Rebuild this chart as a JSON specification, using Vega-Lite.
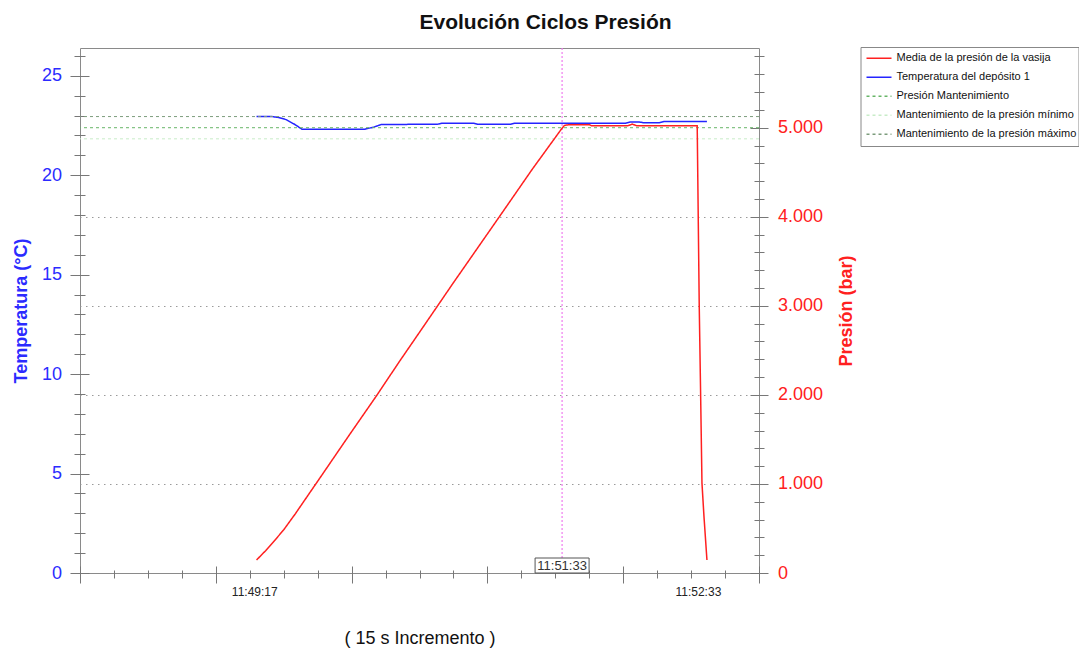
{
  "$schema": "https://vega.github.io/schema/vega-lite/v6.json",
  "width": 679,
  "height": 525,
  "autosize": {"type": "none"},
  "padding": {"left": 80, "top": 48, "right": 320, "bottom": 77},
  "background": "white",
  "config": {
    "font": "Liberation Sans",
    "view": {"stroke": "#8a8a8a", "strokeWidth": 1},
    "axis": {"grid": false, "domain": false, "tickColor": "#777777", "tickWidth": 1, "labelFont": "Liberation Sans", "titleFont": "Liberation Sans"}
  },
  "title": {"text": "Evolución Ciclos Presión", "fontSize": 21, "fontWeight": "bold", "font": "Liberation Sans", "color": "#111111", "anchor": "middle", "dx": 126, "offset": 14},
  "datasets": {
    "temp": [
      {"t": "2024-01-01T11:49:18", "temp": 22.95, "serie": "Temperatura del depósito 1"},
      {"t": "2024-01-01T11:49:25", "temp": 22.95, "serie": "Temperatura del depósito 1"},
      {"t": "2024-01-01T11:49:28", "temp": 22.9, "serie": "Temperatura del depósito 1"},
      {"t": "2024-01-01T11:49:31", "temp": 22.8, "serie": "Temperatura del depósito 1"},
      {"t": "2024-01-01T11:49:35", "temp": 22.55, "serie": "Temperatura del depósito 1"},
      {"t": "2024-01-01T11:49:38", "temp": 22.32, "serie": "Temperatura del depósito 1"},
      {"t": "2024-01-01T11:50:06", "temp": 22.32, "serie": "Temperatura del depósito 1"},
      {"t": "2024-01-01T11:50:10", "temp": 22.43, "serie": "Temperatura del depósito 1"},
      {"t": "2024-01-01T11:50:13", "temp": 22.55, "serie": "Temperatura del depósito 1"},
      {"t": "2024-01-01T11:50:38", "temp": 22.57, "serie": "Temperatura del depósito 1"},
      {"t": "2024-01-01T11:50:40", "temp": 22.62, "serie": "Temperatura del depósito 1"},
      {"t": "2024-01-01T11:50:54", "temp": 22.62, "serie": "Temperatura del depósito 1"},
      {"t": "2024-01-01T11:50:56", "temp": 22.56, "serie": "Temperatura del depósito 1"},
      {"t": "2024-01-01T11:51:10", "temp": 22.56, "serie": "Temperatura del depósito 1"},
      {"t": "2024-01-01T11:51:12", "temp": 22.62, "serie": "Temperatura del depósito 1"},
      {"t": "2024-01-01T11:52:01", "temp": 22.62, "serie": "Temperatura del depósito 1"},
      {"t": "2024-01-01T11:52:03", "temp": 22.68, "serie": "Temperatura del depósito 1"},
      {"t": "2024-01-01T11:52:07", "temp": 22.68, "serie": "Temperatura del depósito 1"},
      {"t": "2024-01-01T11:52:09", "temp": 22.64, "serie": "Temperatura del depósito 1"},
      {"t": "2024-01-01T11:52:16", "temp": 22.64, "serie": "Temperatura del depósito 1"},
      {"t": "2024-01-01T11:52:18", "temp": 22.7, "serie": "Temperatura del depósito 1"},
      {"t": "2024-01-01T11:52:37", "temp": 22.7, "serie": "Temperatura del depósito 1"}
    ],
    "pres": [
      {"t": "2024-01-01T11:49:18", "p": 146, "serie": "Media de la presión de la vasija"},
      {"t": "2024-01-01T11:49:22", "p": 250, "serie": "Media de la presión de la vasija"},
      {"t": "2024-01-01T11:49:26", "p": 365, "serie": "Media de la presión de la vasija"},
      {"t": "2024-01-01T11:49:30", "p": 485, "serie": "Media de la presión de la vasija"},
      {"t": "2024-01-01T11:49:35", "p": 660, "serie": "Media de la presión de la vasija"},
      {"t": "2024-01-01T11:49:40", "p": 845, "serie": "Media de la presión de la vasija"},
      {"t": "2024-01-01T11:49:45", "p": 1030, "serie": "Media de la presión de la vasija"},
      {"t": "2024-01-01T11:49:52", "p": 1290, "serie": "Media de la presión de la vasija"},
      {"t": "2024-01-01T11:49:59", "p": 1550, "serie": "Media de la presión de la vasija"},
      {"t": "2024-01-01T11:50:11", "p": 1990, "serie": "Media de la presión de la vasija"},
      {"t": "2024-01-01T11:50:21", "p": 2370, "serie": "Media de la presión de la vasija"},
      {"t": "2024-01-01T11:50:31", "p": 2740, "serie": "Media de la presión de la vasija"},
      {"t": "2024-01-01T11:50:45", "p": 3260, "serie": "Media de la presión de la vasija"},
      {"t": "2024-01-01T11:51:05", "p": 3990, "serie": "Media de la presión de la vasija"},
      {"t": "2024-01-01T11:51:20", "p": 4540, "serie": "Media de la presión de la vasija"},
      {"t": "2024-01-01T11:51:33", "p": 4995, "serie": "Media de la presión de la vasija"},
      {"t": "2024-01-01T11:51:34", "p": 5025, "serie": "Media de la presión de la vasija"},
      {"t": "2024-01-01T11:51:36", "p": 5034, "serie": "Media de la presión de la vasija"},
      {"t": "2024-01-01T11:51:45", "p": 5034, "serie": "Media de la presión de la vasija"},
      {"t": "2024-01-01T11:51:46", "p": 5022, "serie": "Media de la presión de la vasija"},
      {"t": "2024-01-01T11:52:02", "p": 5022, "serie": "Media de la presión de la vasija"},
      {"t": "2024-01-01T11:52:04", "p": 5040, "serie": "Media de la presión de la vasija"},
      {"t": "2024-01-01T11:52:06", "p": 5022, "serie": "Media de la presión de la vasija"},
      {"t": "2024-01-01T11:52:32.7", "p": 5022, "serie": "Media de la presión de la vasija"},
      {"t": "2024-01-01T11:52:33.6", "p": 2990, "serie": "Media de la presión de la vasija"},
      {"t": "2024-01-01T11:52:34.2", "p": 2020, "serie": "Media de la presión de la vasija"},
      {"t": "2024-01-01T11:52:34.8", "p": 1010, "serie": "Media de la presión de la vasija"},
      {"t": "2024-01-01T11:52:35.7", "p": 630, "serie": "Media de la presión de la vasija"},
      {"t": "2024-01-01T11:52:37", "p": 146, "serie": "Media de la presión de la vasija"}
    ],
    "limits": [
      {"serie": "Presión Mantenimiento", "p": 5000},
      {"serie": "Mantenimiento de la presión mínimo", "p": 4875},
      {"serie": "Mantenimiento de la presión máximo", "p": 5125}
    ],
    "cursor": [
      {"t": "2024-01-01T11:51:33", "p0": 0, "label": "11:51:33"}
    ]
  },
  "layer": [
    {
      "data": {"name": "temp"},
      "layer": [
        {
          "mark": {"type": "line", "opacity": 0},
          "encoding": {
            "x": {"field": "t", "type": "temporal", "scale": {"nice": false, "domain": [{"year": 2024, "month": 1, "date": 1, "hours": 11, "minutes": 48, "seconds": 0}, {"year": 2024, "month": 1, "date": 1, "hours": 11, "minutes": 53, "seconds": 0}]},
              "axis": {"orient": "bottom", "labels": false, "tickSize": 8, "offset": -3, "title": null,
                "values": [
                  {"year": 2024, "month": 1, "date": 1, "hours": 11, "minutes": 48, "seconds": 0},
                  {"year": 2024, "month": 1, "date": 1, "hours": 11, "minutes": 48, "seconds": 15},
                  {"year": 2024, "month": 1, "date": 1, "hours": 11, "minutes": 48, "seconds": 30},
                  {"year": 2024, "month": 1, "date": 1, "hours": 11, "minutes": 48, "seconds": 45},
                  {"year": 2024, "month": 1, "date": 1, "hours": 11, "minutes": 49, "seconds": 0},
                  {"year": 2024, "month": 1, "date": 1, "hours": 11, "minutes": 49, "seconds": 15},
                  {"year": 2024, "month": 1, "date": 1, "hours": 11, "minutes": 49, "seconds": 30},
                  {"year": 2024, "month": 1, "date": 1, "hours": 11, "minutes": 49, "seconds": 45},
                  {"year": 2024, "month": 1, "date": 1, "hours": 11, "minutes": 50, "seconds": 0},
                  {"year": 2024, "month": 1, "date": 1, "hours": 11, "minutes": 50, "seconds": 15},
                  {"year": 2024, "month": 1, "date": 1, "hours": 11, "minutes": 50, "seconds": 30},
                  {"year": 2024, "month": 1, "date": 1, "hours": 11, "minutes": 50, "seconds": 45},
                  {"year": 2024, "month": 1, "date": 1, "hours": 11, "minutes": 51, "seconds": 0},
                  {"year": 2024, "month": 1, "date": 1, "hours": 11, "minutes": 51, "seconds": 15},
                  {"year": 2024, "month": 1, "date": 1, "hours": 11, "minutes": 51, "seconds": 30},
                  {"year": 2024, "month": 1, "date": 1, "hours": 11, "minutes": 51, "seconds": 45},
                  {"year": 2024, "month": 1, "date": 1, "hours": 11, "minutes": 52, "seconds": 0},
                  {"year": 2024, "month": 1, "date": 1, "hours": 11, "minutes": 52, "seconds": 15},
                  {"year": 2024, "month": 1, "date": 1, "hours": 11, "minutes": 52, "seconds": 30},
                  {"year": 2024, "month": 1, "date": 1, "hours": 11, "minutes": 52, "seconds": 45},
                  {"year": 2024, "month": 1, "date": 1, "hours": 11, "minutes": 53, "seconds": 0}
                ]}},
            "y": {"field": "temp", "type": "quantitative", "scale": {"domain": [0, 26.4], "nice": false, "zero": false},
              "axis": {"orient": "left", "values": [0,1,2,3,4,5,6,7,8,9,10,11,12,13,14,15,16,17,18,19,20,21,22,23,24,25,26], "labels": false, "tickSize": 11, "offset": -5, "title": null}}
          }
        },
        {
          "mark": {"type": "line", "opacity": 0},
          "encoding": {
            "x": {"field": "t", "type": "temporal", "scale": {"nice": false, "domain": [{"year": 2024, "month": 1, "date": 1, "hours": 11, "minutes": 48, "seconds": 0}, {"year": 2024, "month": 1, "date": 1, "hours": 11, "minutes": 53, "seconds": 0}]},
              "axis": {"orient": "bottom", "labels": false, "tickSize": 17, "offset": -7, "title": null,
                "values": [
                  {"year": 2024, "month": 1, "date": 1, "hours": 11, "minutes": 48, "seconds": 0},
                  {"year": 2024, "month": 1, "date": 1, "hours": 11, "minutes": 49, "seconds": 0},
                  {"year": 2024, "month": 1, "date": 1, "hours": 11, "minutes": 50, "seconds": 0},
                  {"year": 2024, "month": 1, "date": 1, "hours": 11, "minutes": 51, "seconds": 0},
                  {"year": 2024, "month": 1, "date": 1, "hours": 11, "minutes": 52, "seconds": 0},
                  {"year": 2024, "month": 1, "date": 1, "hours": 11, "minutes": 53, "seconds": 0}
                ]}},
            "y": {"field": "temp", "type": "quantitative", "scale": {"domain": [0, 26.4], "nice": false, "zero": false},
              "axis": {"orient": "left", "values": [0, 5, 10, 15, 20, 25], "tickSize": 19, "offset": -9, "labelPadding": 8.5, "labelFontSize": 18, "labelColor": "#2b2bff", "title": "Temperatura (°C)", "titleFontSize": 18, "titleFontWeight": "bold", "titleColor": "#2b2bff", "titlePadding": 11}}
          }
        },
        {
          "mark": {"type": "line", "strokeWidth": 1.5},
          "encoding": {
            "x": {"field": "t", "type": "temporal", "scale": {"nice": false, "domain": [{"year": 2024, "month": 1, "date": 1, "hours": 11, "minutes": 48, "seconds": 0}, {"year": 2024, "month": 1, "date": 1, "hours": 11, "minutes": 53, "seconds": 0}]},
              "axis": {"orient": "bottom", "values": [{"year": 2024, "month": 1, "date": 1, "hours": 11, "minutes": 49, "seconds": 17}, {"year": 2024, "month": 1, "date": 1, "hours": 11, "minutes": 52, "seconds": 33}], "format": "%H:%M:%S", "ticks": false, "labelPadding": 13, "labelFontSize": 12, "labelColor": "#222222", "title": "( 15 s Incremento )", "titleFontSize": 18, "titleFontWeight": "normal", "titleColor": "#111111", "titlePadding": 32}},
            "y": {"field": "temp", "type": "quantitative", "scale": {"domain": [0, 26.4], "nice": false, "zero": false}, "axis": null},
            "color": {"field": "serie", "type": "nominal",
              "scale": {"domain": ["Media de la presión de la vasija", "Temperatura del depósito 1", "Presión Mantenimiento", "Mantenimiento de la presión mínimo", "Mantenimiento de la presión máximo"], "range": ["#ff2020", "#2424ff", "#67b567", "#c8ecc8", "#7c9c7c"]},
              "legend": {"orient": "none", "legendX": 780.5, "legendY": -1, "title": null, "symbolType": "stroke", "symbolSize": 625, "symbolStrokeWidth": 1.5, "symbolOffset": 3, "clipHeight": 18.5, "labelFontSize": 11, "labelFont": "Liberation Sans", "labelColor": "#111111", "padding": 2, "rowPadding": 0, "labelOffset": 4, "strokeColor": "#888888", "fillColor": "white", "labelLimit": 300}},
            "strokeDash": {"field": "serie", "type": "nominal",
              "scale": {"domain": ["Media de la presión de la vasija", "Temperatura del depósito 1", "Presión Mantenimiento", "Mantenimiento de la presión mínimo", "Mantenimiento de la presión máximo"], "range": [[1, 0], [1, 0], [3, 3], [3, 3], [3, 3]]},
              "legend": {"orient": "none", "legendX": 780.5, "legendY": -1, "title": null, "symbolType": "stroke", "symbolSize": 625, "symbolStrokeWidth": 1.5, "symbolOffset": 3, "clipHeight": 18.5, "labelFontSize": 11, "labelFont": "Liberation Sans", "labelColor": "#111111", "padding": 2, "rowPadding": 0, "labelOffset": 4, "strokeColor": "#888888", "fillColor": "white", "labelLimit": 300}}
          }
        }
      ],
      "resolve": {"axis": {"x": "independent", "y": "independent"}}
    },
    {
      "layer": [
        {
          "data": {"name": "limits"},
          "mark": {"type": "rule", "opacity": 0},
          "encoding": {
            "y": {"field": "p", "type": "quantitative", "scale": {"domain": [0, 5895], "nice": false, "zero": false},
              "axis": {"orient": "right", "values": [1000, 2000, 3000, 4000], "labels": false, "ticks": false, "grid": true, "gridColor": "#9a9a9a", "gridDash": [1.5, 4.5], "gridWidth": 1, "title": null}}
          }
        },
        {
          "data": {"name": "limits"},
          "mark": {"type": "rule", "opacity": 0},
          "encoding": {
            "y": {"field": "p", "type": "quantitative", "scale": {"domain": [0, 5895], "nice": false, "zero": false},
              "axis": {"orient": "right", "values": [0,200,400,600,800,1000,1200,1400,1600,1800,2000,2200,2400,2600,2800,3000,3200,3400,3600,3800,4000,4200,4400,4600,4800,5000,5200,5400,5600,5800], "labels": false, "tickSize": 10, "offset": -5, "title": null}}
          }
        },
        {
          "data": {"name": "cursor"},
          "mark": {"type": "rule", "color": "#f07cf0", "strokeDash": [2, 2], "strokeWidth": 1.2},
          "encoding": {
            "x": {"field": "t", "type": "temporal", "scale": {"nice": false, "domain": [{"year": 2024, "month": 1, "date": 1, "hours": 11, "minutes": 48, "seconds": 0}, {"year": 2024, "month": 1, "date": 1, "hours": 11, "minutes": 53, "seconds": 0}]}, "axis": null}
          }
        },
        {
          "data": {"name": "limits"},
          "mark": {"type": "rule", "strokeWidth": 1},
          "encoding": {
            "y": {"field": "p", "type": "quantitative", "scale": {"domain": [0, 5895], "nice": false, "zero": false},
              "axis": {"orient": "right", "values": [0, 1000, 2000, 3000, 4000, 5000], "tickSize": 18, "offset": -9, "labelPadding": 9.5, "labelFontSize": 18, "labelColor": "#ff2020", "labelExpr": "datum.value == 0 ? '0' : replace(format(datum.value, ','), ',', '.')", "title": "Presión (bar)", "titleColor": "#ff2020", "titleFontSize": 18, "titleFontWeight": "bold", "titleAngle": 270, "titlePadding": 33}},
            "color": {"field": "serie", "type": "nominal",
              "scale": {"domain": ["Media de la presión de la vasija", "Temperatura del depósito 1", "Presión Mantenimiento", "Mantenimiento de la presión mínimo", "Mantenimiento de la presión máximo"], "range": ["#ff2020", "#2424ff", "#67b567", "#c8ecc8", "#7c9c7c"]},
              "legend": {"orient": "none", "legendX": 780.5, "legendY": -1, "title": null, "symbolType": "stroke", "symbolSize": 625, "symbolStrokeWidth": 1.5, "symbolOffset": 3, "clipHeight": 18.5, "labelFontSize": 11, "labelFont": "Liberation Sans", "labelColor": "#111111", "padding": 2, "rowPadding": 0, "labelOffset": 4, "strokeColor": "#888888", "fillColor": "white", "labelLimit": 300}},
            "strokeDash": {"field": "serie", "type": "nominal",
              "scale": {"domain": ["Media de la presión de la vasija", "Temperatura del depósito 1", "Presión Mantenimiento", "Mantenimiento de la presión mínimo", "Mantenimiento de la presión máximo"], "range": [[1, 0], [1, 0], [3, 3], [3, 3], [3, 3]]},
              "legend": {"orient": "none", "legendX": 780.5, "legendY": -1, "title": null, "symbolType": "stroke", "symbolSize": 625, "symbolStrokeWidth": 1.5, "symbolOffset": 3, "clipHeight": 18.5, "labelFontSize": 11, "labelFont": "Liberation Sans", "labelColor": "#111111", "padding": 2, "rowPadding": 0, "labelOffset": 4, "strokeColor": "#888888", "fillColor": "white", "labelLimit": 300}}
          }
        },
        {
          "data": {"name": "pres"},
          "mark": {"type": "line", "strokeWidth": 1.5},
          "encoding": {
            "x": {"field": "t", "type": "temporal", "scale": {"nice": false, "domain": [{"year": 2024, "month": 1, "date": 1, "hours": 11, "minutes": 48, "seconds": 0}, {"year": 2024, "month": 1, "date": 1, "hours": 11, "minutes": 53, "seconds": 0}]}, "axis": null},
            "y": {"field": "p", "type": "quantitative", "scale": {"domain": [0, 5895], "nice": false, "zero": false}, "axis": null},
            "color": {"field": "serie", "type": "nominal",
              "scale": {"domain": ["Media de la presión de la vasija", "Temperatura del depósito 1", "Presión Mantenimiento", "Mantenimiento de la presión mínimo", "Mantenimiento de la presión máximo"], "range": ["#ff2020", "#2424ff", "#67b567", "#c8ecc8", "#7c9c7c"]},
              "legend": {"orient": "none", "legendX": 780.5, "legendY": -1, "title": null, "symbolType": "stroke", "symbolSize": 625, "symbolStrokeWidth": 1.5, "symbolOffset": 3, "clipHeight": 18.5, "labelFontSize": 11, "labelFont": "Liberation Sans", "labelColor": "#111111", "padding": 2, "rowPadding": 0, "labelOffset": 4, "strokeColor": "#888888", "fillColor": "white", "labelLimit": 300}},
            "strokeDash": {"field": "serie", "type": "nominal",
              "scale": {"domain": ["Media de la presión de la vasija", "Temperatura del depósito 1", "Presión Mantenimiento", "Mantenimiento de la presión mínimo", "Mantenimiento de la presión máximo"], "range": [[1, 0], [1, 0], [3, 3], [3, 3], [3, 3]]},
              "legend": {"orient": "none", "legendX": 780.5, "legendY": -1, "title": null, "symbolType": "stroke", "symbolSize": 625, "symbolStrokeWidth": 1.5, "symbolOffset": 3, "clipHeight": 18.5, "labelFontSize": 11, "labelFont": "Liberation Sans", "labelColor": "#111111", "padding": 2, "rowPadding": 0, "labelOffset": 4, "strokeColor": "#888888", "fillColor": "white", "labelLimit": 300}}
          }
        },
        {
          "data": {"name": "cursor"},
          "mark": {"type": "rect", "width": 54, "height": 15, "fill": "white", "stroke": "#555555", "strokeWidth": 1, "opacity": 1, "yOffset": -7.5},
          "encoding": {
            "x": {"field": "t", "type": "temporal", "scale": {"nice": false, "domain": [{"year": 2024, "month": 1, "date": 1, "hours": 11, "minutes": 48, "seconds": 0}, {"year": 2024, "month": 1, "date": 1, "hours": 11, "minutes": 53, "seconds": 0}]}, "axis": null},
            "y": {"field": "p0", "type": "quantitative", "scale": {"domain": [0, 5895], "nice": false, "zero": false}, "axis": null}
          }
        },
        {
          "data": {"name": "cursor"},
          "mark": {"type": "text", "fontSize": 13, "color": "#333333", "yOffset": -7.5, "baseline": "middle", "align": "center"},
          "encoding": {
            "x": {"field": "t", "type": "temporal", "scale": {"nice": false, "domain": [{"year": 2024, "month": 1, "date": 1, "hours": 11, "minutes": 48, "seconds": 0}, {"year": 2024, "month": 1, "date": 1, "hours": 11, "minutes": 53, "seconds": 0}]}, "axis": null},
            "y": {"field": "p0", "type": "quantitative", "scale": {"domain": [0, 5895], "nice": false, "zero": false}, "axis": null},
            "text": {"field": "label"}
          }
        }
      ],
      "resolve": {"axis": {"x": "independent", "y": "independent"}}
    }
  ],
  "resolve": {"scale": {"y": "independent"}, "axis": {"x": "independent", "y": "independent"}}
}
